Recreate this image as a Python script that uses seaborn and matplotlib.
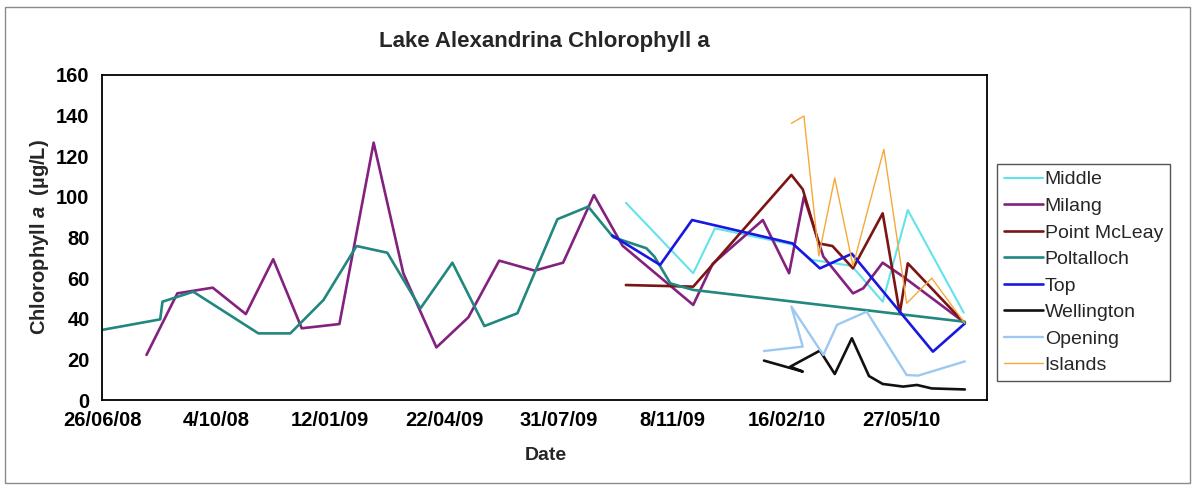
import datetime as dt
import matplotlib
matplotlib.use("Agg")
import matplotlib.pyplot as plt
from matplotlib.patches import Rectangle
import pandas as pd
import seaborn as sns

# ---------------- data ----------------
middle_dates = ["2009-09-28", "2009-11-26", "2009-12-15", "2010-02-21", "2010-03-10",
                "2010-04-14", "2010-05-11", "2010-06-02", "2010-07-21"]
middle_vals = [97.1, 62.4, 84.5, 76.5, 69.0, 66.0, 48.4, 93.5, 43.0]

milang_dates = ["2008-08-04", "2008-08-31", "2008-10-01", "2008-10-30", "2008-11-23",
                "2008-12-18", "2009-01-20", "2009-02-19", "2009-03-17", "2009-04-15",
                "2009-05-13", "2009-06-09", "2009-07-10", "2009-08-04", "2009-08-31",
                "2009-09-25", "2009-11-26", "2009-12-13", "2010-01-26", "2010-02-18",
                "2010-03-03", "2010-03-20", "2010-04-15", "2010-04-24", "2010-05-11",
                "2010-05-29", "2010-07-22"]
milang_vals = [22.2, 52.5, 55.3, 42.3, 69.3, 35.3, 37.4, 126.7, 62.4, 25.9,
               40.7, 68.6, 63.7, 67.6, 100.9, 76.0, 46.8, 67.0, 88.6, 62.4,
               100.1, 70.6, 52.5, 55.0, 67.6, 60.7, 38.0]

mcleay_dates = ["2009-09-28", "2009-11-26", "2010-02-20", "2010-03-02", "2010-03-16",
                "2010-03-28", "2010-04-15", "2010-05-11", "2010-05-26", "2010-06-02",
                "2010-07-22"]
mcleay_vals = [56.6, 55.8, 110.8, 103.7, 77.1, 75.8, 64.8, 91.9, 42.7, 67.3, 37.7]

poltalloch_dates = ["2008-06-26", "2008-08-16", "2008-08-18", "2008-09-14", "2008-11-10",
                    "2008-12-08", "2009-01-06", "2009-02-04", "2009-03-03", "2009-04-01",
                    "2009-04-29", "2009-05-27", "2009-06-25", "2009-07-30", "2009-08-26",
                    "2009-09-17", "2009-10-16", "2009-10-23", "2009-11-06", "2009-11-26",
                    "2010-07-22"]
poltalloch_vals = [34.5, 39.7, 48.4, 53.3, 32.8, 32.8, 49.2, 75.8, 72.5, 45.1,
                   67.6, 36.4, 42.7, 89.0, 95.2, 80.1, 74.7, 70.6, 57.4, 54.2, 38.5]

top_dates = ["2009-09-16", "2009-10-28", "2009-11-25", "2010-02-21", "2010-03-17",
             "2010-04-14", "2010-06-24", "2010-07-22"]
top_vals = [81.0, 66.5, 88.6, 77.1, 64.8, 72.0, 23.8, 37.7]

wellington_dates = ["2010-01-27", "2010-03-02", "2010-02-19", "2010-03-17", "2010-03-30",
                    "2010-04-14", "2010-04-29", "2010-05-11", "2010-05-29", "2010-06-10",
                    "2010-06-23", "2010-07-22"]
wellington_vals = [19.4, 14.0, 16.4, 24.3, 12.8, 30.4, 11.8, 7.9, 6.6, 7.4, 5.7, 5.2]

opening_dates = ["2010-01-27", "2010-03-02", "2010-02-20", "2010-03-20", "2010-04-01",
                 "2010-04-27", "2010-06-01", "2010-06-11", "2010-07-22"]
opening_vals = [24.1, 26.3, 46.0, 22.2, 37.0, 43.5, 12.3, 12.0, 19.0]

islands_dates = ["2010-02-20", "2010-03-03", "2010-03-16", "2010-03-30", "2010-04-15",
                 "2010-05-12", "2010-06-01", "2010-06-23", "2010-07-22"]
islands_vals = [136.2, 139.8, 71.0, 109.3, 66.0, 123.4, 47.6, 60.0, 37.7]

series_names = ["Middle", "Milang", "Point McLeay", "Poltalloch", "Top",
                "Wellington", "Opening", "Islands"]
series_data = [(middle_dates, middle_vals), (milang_dates, milang_vals),
               (mcleay_dates, mcleay_vals), (poltalloch_dates, poltalloch_vals),
               (top_dates, top_vals), (wellington_dates, wellington_vals),
               (opening_dates, opening_vals), (islands_dates, islands_vals)]

x_start = "2008-06-26"
tick_step_days = 100
n_ticks = 8
x_span_days = 775.4
y_ticks = [0, 20, 40, 60, 80, 100, 120, 140, 160]

title = "Lake Alexandrina Chlorophyll a"
x_label = "Date"
y_label = r"Chlorophyll $\mathit{a}$  (µg/L)"

# ---------------- styles ----------------
colors = {"Middle": "#62E3EA", "Milang": "#83217F", "Point McLeay": "#7B1414",
          "Poltalloch": "#21877F", "Top": "#1818E0", "Wellington": "#111111",
          "Opening": "#9CC9F2", "Islands": "#F4A93A"}
widths = {"Middle": 1.5, "Milang": 1.9, "Point McLeay": 1.9, "Poltalloch": 1.9,
          "Top": 1.9, "Wellington": 1.9, "Opening": 1.7, "Islands": 1.0}

sns.set_style("white")
plt.rcParams["font.family"] = ["Liberation Sans", "DejaVu Sans"]
plt.rcParams["font.weight"] = "bold"
plt.rcParams["mathtext.fontset"] = "custom"
plt.rcParams["mathtext.it"] = "Liberation Sans:italic:bold"
plt.rcParams["mathtext.rm"] = "Liberation Sans:bold"
plt.rcParams["mathtext.bf"] = "Liberation Sans:bold"

W, H = 1197, 488
fig = plt.figure(figsize=(W / 100, H / 100), dpi=100)
fig.patch.set_facecolor("white")
ax = fig.add_axes([102 / W, 1 - 400 / H, 885 / W, 325 / H])

frames = []
for name, (d, v) in zip(series_names, series_data):
    frames.append(pd.DataFrame({"date": pd.to_datetime(d), "value": v, "site": name}))
df = pd.concat(frames, ignore_index=True)

for name in series_names:
    sub = df[df["site"] == name]
    sns.lineplot(data=sub, x="date", y="value", ax=ax, sort=False, estimator=None,
                 color=colors[name], linewidth=widths[name], label=name)

start = pd.Timestamp(x_start)
ax.set_xlim(start, start + pd.Timedelta(days=x_span_days))
ax.set_ylim(0, 160)
ticks = [start + pd.Timedelta(days=tick_step_days * i) for i in range(n_ticks)]
ax.set_xticks(ticks)
ax.set_xticklabels([f"{t.day}/{t.month:02d}/{t.year % 100:02d}" for t in ticks])
ax.set_yticks(y_ticks)
ax.set_xlabel("")
ax.set_ylabel("")

for s in ax.spines.values():
    s.set_visible(True)
    s.set_color("black")
    s.set_linewidth(1.3)
ax.tick_params(axis="both", direction="out", length=5, width=1, colors="black",
               labelsize=14.5, pad=4)
ax.tick_params(axis="x", pad=3)
for lab in ax.get_xticklabels() + ax.get_yticklabels():
    lab.set_fontweight("bold")

handles, labels = ax.get_legend_handles_labels()
ax.legend(handles, labels, loc="upper left",
          bbox_to_anchor=(997 / W, 1 - 164 / H), bbox_transform=fig.transFigure,
          frameon=True, fancybox=False, edgecolor="#555555", framealpha=1,
          borderaxespad=0, borderpad=0.35, handlelength=2.0, handletextpad=0.1,
          labelspacing=0.46, prop={"weight": "normal", "size": 14})
ax.get_legend().get_frame().set_linewidth(1.0)

fig.text(544 / W, 1 - 42 / H, title, ha="center", va="center",
         fontsize=16, fontweight="bold")
fig.text(546 / W, 1 - 455 / H, x_label, ha="center", va="center",
         fontsize=14, fontweight="bold")
fig.text(40 / W, 1 - 237 / H, y_label, ha="center", va="center", rotation=90,
         fontsize=14.5, fontweight="bold")

fig.patches.append(Rectangle((5 / W, 5 / H), 1185 / W, 476 / H,
                             transform=fig.transFigure, fill=False,
                             edgecolor="#8a8a8a", linewidth=1.0))

fig.savefig("out.png", dpi=100, facecolor="white")
